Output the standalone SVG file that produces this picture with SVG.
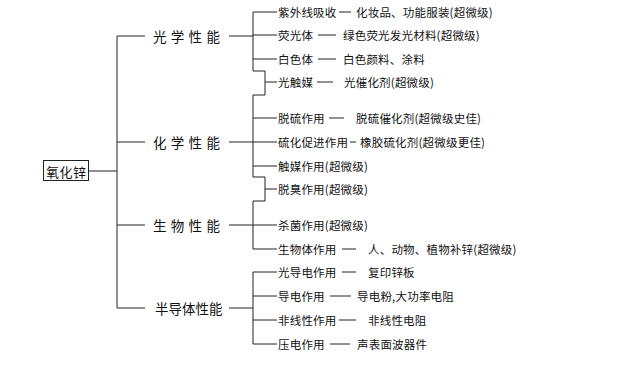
<svg xmlns="http://www.w3.org/2000/svg" width="634" height="366" viewBox="0 0 634 366">
<style>
text{font-family:"Noto Sans CJK SC","Noto Sans CJK TC",sans-serif;fill:#111;dominant-baseline:central}
.l2{font-size:11.5px;letter-spacing:0.2px}
.l1{font-size:13.5px;letter-spacing:4.3px}
.l1b{font-size:13.5px;letter-spacing:0px}
.root{font-size:13px;letter-spacing:0.5px}
.c{stroke:#222;stroke-width:1;fill:none}
</style>
<rect width="634" height="366" fill="#fff"/>
<g id="connectors" class="c">
<path d="M89,171 H117 M117,36 V308 M117,36 H145 M117,142 H145 M117,225 H145 M117,308 H145"/>
<path d="M229,36 H253 M229,142 H253 M229,225 H253 M229,308 H253"/>
<path d="M277,12 H253 V71 H265 V95 H253 V177 H265 V201 H253 V249 H277"/>
<path d="M253,35 H277 M253,59 H277 M265,82 H277 M253,118 H277 M253,142 H277 M253,166 H277 M265,189 H277 M253,225 H277"/>
<path d="M277,272 H253 V344 H277 M253,296 H277 M253,320 H277"/>
<path d="M339,12 H351 M318,35 H336 M318,59 H336 M317,82 H333 M329,118 H344 M350,142 H356 M342,249 H356 M342,272 H356 M330,296 H351 M339,320 H356 M330,344 H350"/>
</g>
<g id="root"><rect x="43.5" y="160.5" width="45" height="20" fill="#fff" stroke="#222"/><text class="root" x="46" y="171">氧化锌</text></g>
<g id="optical"><text class="l1" x="153" y="36">光学性能</text></g>
<g id="chemical"><text class="l1" x="153" y="142">化学性能</text></g>
<g id="biological"><text class="l1" x="153" y="225">生物性能</text></g>
<g id="semiconductor"><text class="l1b" x="155" y="308">半导体性能</text></g>
<g id="uv"><text class="l2" x="278" y="12">紫外线吸收</text><text class="l2" x="356" y="12">化妆品、功能服装(超微级)</text></g>
<g id="fluor"><text class="l2" x="278" y="35">荧光体</text><text class="l2" x="343" y="35">绿色荧光发光材料(超微级)</text></g>
<g id="white"><text class="l2" x="278" y="59">白色体</text><text class="l2" x="343" y="59">白色颜料、涂料</text></g>
<g id="photocat"><text class="l2" x="278" y="82">光触媒</text><text class="l2" x="344" y="82">光催化剂(超微级)</text></g>
<g id="desulf"><text class="l2" x="278" y="118">脱硫作用</text><text class="l2" x="356" y="118">脱硫催化剂(超微级史佳)</text></g>
<g id="vulcan"><text class="l2" x="278" y="142">硫化促进作用</text><text class="l2" x="360" y="142">橡胶硫化剂(超微级更佳)</text></g>
<g id="catalyst"><text class="l2" x="278" y="166">触媒作用(超微级)</text></g>
<g id="deodor"><text class="l2" x="278" y="189">脱臭作用(超微级)</text></g>
<g id="antibac"><text class="l2" x="278" y="225">杀菌作用(超微级)</text></g>
<g id="bio"><text class="l2" x="278" y="249">生物体作用</text><text class="l2" x="368" y="249">人、动物、植物补锌(超微级)</text></g>
<g id="photocond"><text class="l2" x="278" y="272">光导电作用</text><text class="l2" x="368" y="272">复印锌板</text></g>
<g id="cond"><text class="l2" x="278" y="296">导电作用</text><text class="l2" x="357" y="296">导电粉,大功率电阻</text></g>
<g id="nonlin"><text class="l2" x="278" y="320">非线性作用</text><text class="l2" x="368" y="320">非线性电阻</text></g>
<g id="piezo"><text class="l2" x="278" y="344">压电作用</text><text class="l2" x="357" y="344">声表面波器件</text></g>
</svg>
